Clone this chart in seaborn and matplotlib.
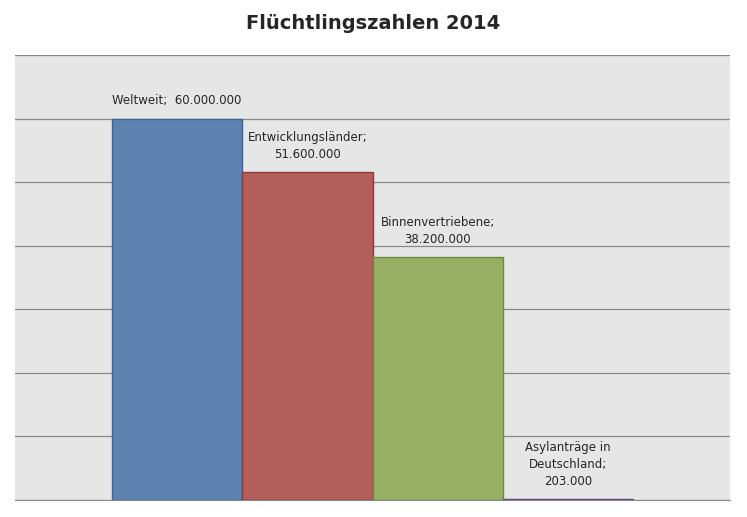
import matplotlib
matplotlib.use("Agg")
import matplotlib.pyplot as plt
import seaborn as sns
import pandas as pd

# data
categories = ["Weltweit", "Entwicklungsländer", "Binnenvertriebene", "Asylanträge in Deutschland"]
values = [60000000, 51600000, 38200000, 203000]
labels = ["Weltweit;  60.000.000", "Entwicklungsländer;\n51.600.000",
          "Binnenvertriebene;\n38.200.000", "Asylanträge in\nDeutschland;\n203.000"]
colors = ["#4F81BD", "#C0504D", "#9BBB59", "#8064A2"]
edges = ["#3A6494", "#8E3A38", "#71893F", "#5E4A78"]

sns.set_style("white")
plt.rcParams["font.family"] = ["Liberation Sans Narrow", "DejaVu Sans"]

df = pd.DataFrame({"cat": categories, "val": values})

fig = plt.figure(figsize=(7.47, 5.17), dpi=100)
ax = fig.add_axes([15/747, 17/517, 715/747, 445/517])
ax.set_facecolor("#E6E6E6")
sns.barplot(data=df, x="cat", y="val", hue="cat", palette=colors, width=1,
            legend=False, ax=ax, zorder=3)
for bar, ec in zip(ax.patches, edges):
    bar.set_edgecolor(ec)
    bar.set_linewidth(1)

ax.set_ylim(0, 70000000)
ax.set_xlim(-1.245, 4.245)
ax.set_yticks(range(0, 70000001, 10000000))
ax.yaxis.grid(True, color="#888888", linewidth=0.9, zorder=0)
ax.set_axisbelow(True)
ax.tick_params(left=False, bottom=False, labelleft=False, labelbottom=False)
ax.set_xlabel("")
ax.set_ylabel("")
for s in ["left", "right", "top"]:
    ax.spines[s].set_visible(False)
ax.spines["bottom"].set_color("#888888")

for i, (v, lab) in enumerate(zip(values, labels)):
    ax.annotate(lab, (i, v), xytext=(0, 8), textcoords="offset points",
                ha="center", va="bottom", fontsize=8.5, linespacing=1.4)

fig.text(0.5, 0.955, "Flüchtlingszahlen 2014", ha="center", va="center",
         fontsize=14, fontweight="bold")

fig.savefig("out.png", dpi=100)
